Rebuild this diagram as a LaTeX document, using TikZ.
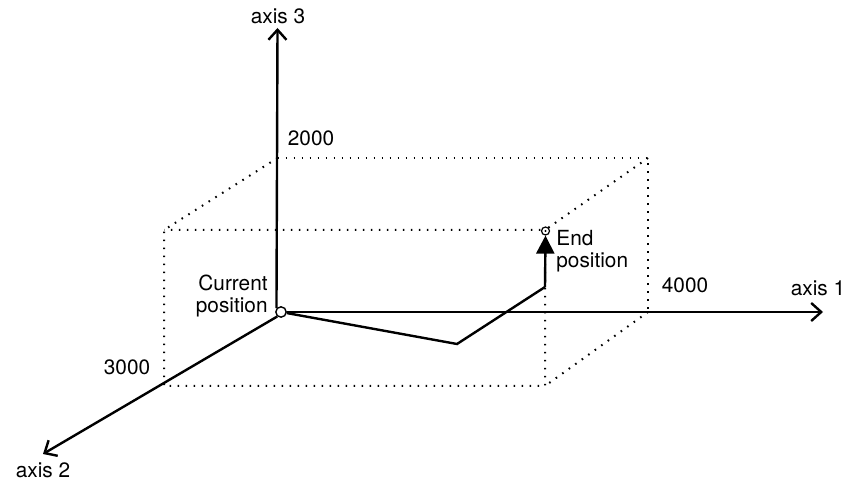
\documentclass[tikz,border=0pt]{standalone}
\usepackage{fontspec}
\setmainfont{TeX Gyre Heros}
\usetikzlibrary{arrows.meta}
\begin{document}
\begin{tikzpicture}[
  x=0.5pt, y=-0.5pt,
  every node/.style={font=\fontsize{10.4}{11}\selectfont, inner sep=0pt},
  axis/.style={line width=1.2pt, -{Straight Barb[length=5pt,width=9pt]}},
  move/.style={line width=1.2pt},
  frame/.style={line width=1pt, dash pattern=on 0.8pt off 3.2pt},
  curpos/.style={circle, draw, line width=0.7pt, fill=white, minimum size=5.2pt},
  endpos/.style={circle, draw, line width=0.6pt, fill=white, minimum size=4pt}
]
\useasboundingbox (0,0) rectangle (851,480);

\coordinate (A1) at (823,312);
\coordinate (A2) at (43,454);
\coordinate (A3) at (277.5,28);

\coordinate (B3) at (277.5,158);
\coordinate (B13) at (648,158);
\coordinate (B1) at (648,312);
\coordinate (F3) at (164,230);
\coordinate (F1) at (545,386);
\coordinate (F2) at (164,386);
\coordinate (via) at (457,344);
\coordinate (up) at (545,287);

\draw[frame] (B3) -- (B13) -- (B1);
\draw[frame] (B3) -- (F3) -- (F2) -- (F1) -- (545,230) -- (F3);
\draw[frame] (B13) -- (545,230);
\draw[frame] (B1) -- (F1);

\node[curpos] (cur) at (281,312) {};
\node[endpos] (endp) at (545.5,231) {};
\fill (endp) circle (0.6pt);

\draw[axis] (cur.140) -- (A3);
\draw[axis] (cur.east) -- (A1);
\draw[axis] (cur.230) -- (A2);

\draw[move] (cur) -- (via) -- (up);
\draw[move, -{Triangle[length=9pt,width=9pt]}] (up) -- (endp.south);

\node (lab3) at (278,16) {axis 3};
\node (lab1) at (818,288) {axis 1};
\node (lab2) at (43,470) {axis 2};
\node (v2000) at (311,138) {2000};
\node (v4000) at (685,285) {4000};
\node (v3000) at (127,367) {3000};
\node[align=right, anchor=east] (curlab) at (268,296) {Current\\position};
\node[align=left, anchor=west] (endlab) at (556,251) {End\\position};
\end{tikzpicture}
\end{document}
